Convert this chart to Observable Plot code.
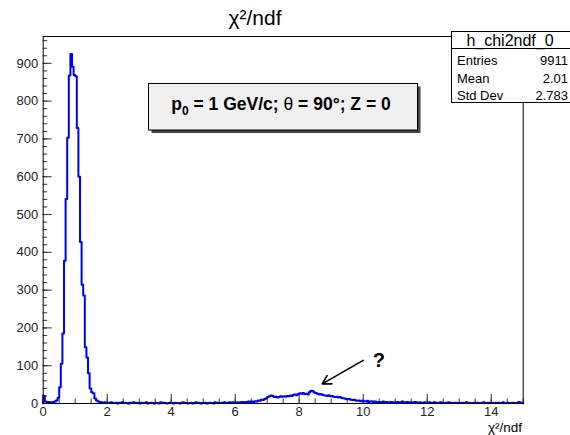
<!DOCTYPE html>
<html>
<head>
<meta charset="utf-8">
<script src="https://cdn.jsdelivr.net/npm/d3@7"></script>
<script src="https://cdn.jsdelivr.net/npm/@observablehq/plot@0.6"></script>
<style>
  body { margin: 0; background: #fff; }
  #chart { width: 570px; height: 435px; }
</style>
</head>
<body>
<div id="chart"></div>
<script>
// ---- data ----
const binWidth = 0.05;           // 300 bins from 0 to 15
const xDomain = [0, 15];
const yDomain = [0, 971];
// counts, 0.00 – 2.00
const peakCounts = [20, 5, 3, 4, 3, 3, 4, 5, 8, 15,
  43, 105, 185, 378, 541, 703, 868, 925, 891, 869,
  866, 729, 600, 427, 314, 286, 149, 122, 80, 40,
  30, 27, 13, 8, 5, 4, 3, 2, 3, 2];
// counts, 2.00 – 6.50
const midCounts = [2, 1, 3, 2, 1, 2, 0, 2, 1, 3,
  1, 2, 1, 0, 2, 1, 3, 1, 2, 1,
  0, 2, 1, 1, 3, 0, 1, 2, 1, 0,
  2, 1, 0, 3, 1, 2, 1, 0, 1, 2,
  1, 0, 2, 1, 1, 0, 2, 3, 1, 1,
  0, 1, 2, 0, 1, 3, 1, 2, 0, 1,
  1, 2, 0, 1, 2, 1, 0, 3, 1, 2,
  1, 2, 2, 3, 1, 2, 3, 2, 3, 2,
  2, 3, 2, 3, 4, 3, 4, 3, 5, 4];
// counts, 6.50 – 10.50
const bumpCounts = [5, 4, 6, 5, 8, 7, 10, 9, 12, 14,
  17, 19, 21, 20, 17, 18, 16, 17, 19, 18,
  19, 18, 20, 19, 21, 20, 23, 24, 22, 25,
  27, 26, 28, 25, 26, 24, 30, 34, 33, 29,
  28, 26, 24, 25, 23, 22, 21, 20, 22, 19,
  20, 18, 17, 18, 16, 17, 15, 14, 13, 12,
  11, 12, 10, 9, 10, 8, 7, 8, 6, 7,
  6, 5, 7, 4, 5, 6, 4, 5, 3, 4];
// counts, 10.50 – 15.00
const tailCounts = [4, 3, 5, 3, 4, 2, 3, 4, 3, 2,
  3, 4, 2, 3, 5, 3, 2, 4, 3, 2,
  3, 2, 4, 3, 2, 3, 1, 2, 3, 2,
  2, 3, 1, 2, 3, 2, 2, 1, 3, 2,
  1, 2, 2, 3, 1, 2, 1, 2, 2, 1,
  2, 1, 2, 1, 3, 1, 2, 1, 1, 2,
  1, 2, 1, 1, 2, 3, 1, 1, 2, 1,
  1, 1, 2, 1, 2, 1, 1, 3, 1, 1,
  2, 1, 1, 2, 1, 1, 2, 4, 1, 2];
const xTicks = [0, 2, 4, 6, 8, 10, 12, 14];
const yTicks = [0, 100, 200, 300, 400, 500, 600, 700, 800, 900];
const titleText = "χ²/ndf";
const xTitle = "χ²/ndf";
const statsName = "h_chi2ndf_0";
const statsLabels = ["Entries", "Mean", "Std Dev"];
const statsValues = ["9911", "2.01", "2.783"];
const arrowNote = [{x1: 10.0, y1: 114, x2: 8.72, y2: 52, label: "?", tx: 10.3, ty: 113}];

// ---- build outline points ----
const counts = [...peakCounts, ...midCounts, ...bumpCounts, ...tailCounts];
const outline = [{x: 0, y: 0}];
counts.forEach((c, i) => {
  outline.push({x: i * binWidth, y: c}, {x: (i + 1) * binWidth, y: c});
});
outline.push({x: xDomain[1], y: 0});

// pixel geometry
const W = 570, H = 435;
const mL = 42.7, mR = 47.3, mT = 36, mB = 32;
const xPerPx = (xDomain[1] - xDomain[0]) / (W - mL - mR);
const yPerPx = (yDomain[1] - yDomain[0]) / (H - mT - mB);
const yMinor = d3.range(0, yDomain[1], 20);
const xMinor = d3.range(0, 15.001, 0.5);
const font = '"Liberation Sans", Arial, Helvetica, sans-serif';

const plot = Plot.plot({
  width: W, height: H,
  marginLeft: mL, marginRight: mR, marginTop: mT, marginBottom: mB,
  x: {domain: xDomain},
  y: {domain: yDomain},
  style: {fontFamily: font, fontSize: "13px", color: "#222", background: "white"},
  marks: [
    Plot.ruleY(yMinor, {y: d => d, x1: 0, x2: 4.5 * xPerPx, stroke: "#333", strokeWidth: 1}),
    Plot.ruleY(yTicks, {y: d => d, x1: 0, x2: 9 * xPerPx, stroke: "#333", strokeWidth: 1}),
    Plot.ruleX(xMinor, {x: d => d, y1: 0, y2: 4.5 * yPerPx, stroke: "#333", strokeWidth: 1}),
    Plot.ruleX(xTicks, {x: d => d, y1: 0, y2: 9 * yPerPx, stroke: "#333", strokeWidth: 1}),
    Plot.line(outline, {x: "x", y: "y", stroke: "#0000ff", strokeWidth: 2}),
    Plot.frame({stroke: "#000", strokeWidth: 1}),
    Plot.axisY({ticks: yTicks, tickSize: 0, tickPadding: 5, label: null, fontSize: 13}),
    Plot.axisX({ticks: xTicks, tickSize: 0, tickPadding: 3, label: null, fontSize: 13}),
    Plot.arrow(arrowNote, {x1: "x1", y1: "y1", x2: "x2", y2: "y2", stroke: "#000", strokeWidth: 1.6, headLength: 9}),
    Plot.text(arrowNote, {x: "tx", y: "ty", text: "label", fontSize: 20, fontWeight: "bold", fill: "#000", textAnchor: "start"})
  ]
});
document.getElementById("chart").appendChild(plot);

// ---- annotations drawn into the same SVG ----
const svg = d3.select(plot);
const g = svg.append("g").attr("font-family", font).attr("fill", "#000").attr("text-anchor", "start");

// title
g.append("text").attr("x", 255).attr("y", 25).attr("text-anchor", "middle")
  .attr("font-size", 21).text(titleText);

// x axis title
g.append("text").attr("x", 522).attr("y", 432).attr("text-anchor", "end")
  .attr("font-size", 13.5).text(xTitle);

// stats box
g.append("rect").attr("x", 451.5).attr("y", 31.5).attr("width", 130).attr("height", 71)
  .attr("fill", "#fff").attr("stroke", "#000").attr("stroke-width", 1);
g.append("line").attr("x1", 451.5).attr("x2", 580).attr("y1", 48.5).attr("y2", 48.5)
  .attr("stroke", "#000").attr("stroke-width", 1);
g.append("text").attr("x", 510).attr("y", 46).attr("text-anchor", "middle")
  .attr("font-size", 16).text(statsName);
statsLabels.forEach((lab, i) => {
  const yb = 65 + i * 17.5;
  g.append("text").attr("x", 457).attr("y", yb).attr("text-anchor", "start").attr("font-size", 13).text(lab);
  g.append("text").attr("x", 568).attr("y", yb).attr("text-anchor", "end").attr("font-size", 13).text(statsValues[i]);
});

// condition text box with shadow
g.append("rect").attr("x", 151.5).attr("y", 86.5).attr("width", 269).attr("height", 46.5)
  .attr("fill", "#444");
g.append("rect").attr("x", 148.5).attr("y", 83.5).attr("width", 269).attr("height", 46.5)
  .attr("fill", "#f0f0f0").attr("stroke", "#000").attr("stroke-width", 1);
const t = g.append("text").attr("x", 281).attr("y", 110).attr("text-anchor", "middle")
  .attr("font-size", 17.5).attr("font-weight", "bold");
t.append("tspan").text("p");
t.append("tspan").attr("font-size", 12).attr("dy", 5).text("0");
t.append("tspan").attr("dy", -5).text(" = 1 GeV/c; ");
t.append("tspan").attr("font-weight", "normal").text("θ");
t.append("tspan").text(" = 90°; Z = 0");
</script>
</body>
</html>
